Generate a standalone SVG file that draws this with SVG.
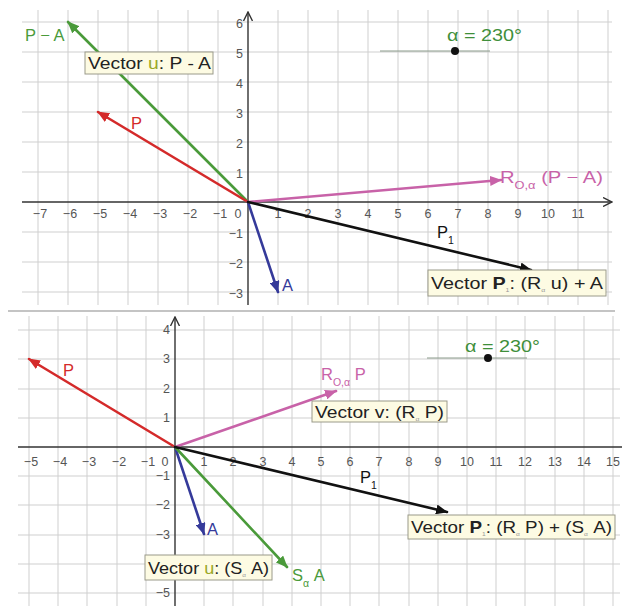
<svg xmlns="http://www.w3.org/2000/svg" width="627" height="606" viewBox="0 0 627 606">
<defs>
<style>
.grid{stroke:#cfcfcf;stroke-width:1;fill:none}
.axis{stroke:#333;stroke-width:1.4;fill:none}
.tick{font-family:"Liberation Sans",Arial,sans-serif;font-size:12.5px;fill:#555}
.lbl{font-family:"Liberation Sans",Arial,sans-serif;font-size:16.5px}
.box{fill:#fdfbe3;stroke:#9a9a8a;stroke-width:1}
.btxt{font-family:"Liberation Sans",Arial,sans-serif;font-size:17px;fill:#222}
.sub{font-size:10.5px}
.tiny{font-size:6px;fill:#999}
.vec{stroke-width:2.6;fill:none;stroke-linecap:round}
</style>
<marker id="arK" markerUnits="userSpaceOnUse" markerWidth="12" markerHeight="10" refX="11" refY="5" orient="auto"><path d="M0,0 L12,5 L0,10 Z" fill="#111"/></marker>
<marker id="arR" markerUnits="userSpaceOnUse" markerWidth="12" markerHeight="10" refX="11" refY="5" orient="auto"><path d="M0,0 L12,5 L0,10 Z" fill="#d42a2a"/></marker>
<marker id="arG" markerUnits="userSpaceOnUse" markerWidth="12" markerHeight="10" refX="11" refY="5" orient="auto"><path d="M0,0 L12,5 L0,10 Z" fill="#4a9a3a"/></marker>
<marker id="arB" markerUnits="userSpaceOnUse" markerWidth="12" markerHeight="10" refX="11" refY="5" orient="auto"><path d="M0,0 L12,5 L0,10 Z" fill="#353a9a"/></marker>
<marker id="arM" markerUnits="userSpaceOnUse" markerWidth="12" markerHeight="10" refX="11" refY="5" orient="auto"><path d="M0,0 L12,5 L0,10 Z" fill="#c862a8"/></marker>
<marker id="axA" markerUnits="userSpaceOnUse" markerWidth="10" markerHeight="10" refX="9" refY="5" orient="auto"><path d="M0,0.5 L9,5 L0,9.5" fill="none" stroke="#333" stroke-width="1.4"/></marker>
</defs>
<rect width="627" height="606" fill="#fff"/>

<!-- TOP PANEL -->
<g id="top-grid">
<path class="grid" d="M38,10V305 M68,10V305 M98,10V305 M128,10V305 M158,10V305 M188,10V305 M218,10V305 M278,10V305 M308,10V305 M338,10V305 M368,10V305 M398,10V305 M428,10V305 M458,10V305 M488,10V305 M518,10V305 M548,10V305 M578,10V305 M608,10V305"/>
<path class="grid" d="M22,22H612 M22,52H612 M22,82H612 M22,112H612 M22,142H612 M22,172H612 M22,232H612 M22,262H612 M22,292H612"/>
<line class="axis" x1="22" y1="202" x2="612" y2="202" marker-end="url(#axA)"/>
<line class="axis" x1="248" y1="305" x2="248" y2="12" marker-end="url(#axA)"/>
</g>
<g id="top-ticks" class="tick" text-anchor="middle">
<text x="40" y="218">−7</text><text x="70" y="218">−6</text><text x="100" y="218">−5</text><text x="130" y="218">−4</text><text x="160" y="218">−3</text><text x="190" y="218">−2</text><text x="220" y="218">−1</text><text x="238" y="218">0</text>
<text x="278" y="218">1</text><text x="308" y="218">2</text><text x="338" y="218">3</text><text x="368" y="218">4</text><text x="398" y="218">5</text><text x="428" y="218">6</text><text x="458" y="218">7</text><text x="488" y="218">8</text><text x="518" y="218">9</text><text x="548" y="218">10</text><text x="578" y="218">11</text>
<g text-anchor="end"><text x="243" y="28">6</text><text x="243" y="58">5</text><text x="243" y="88">4</text><text x="243" y="118">3</text><text x="243" y="148">2</text><text x="243" y="178">1</text><text x="243" y="238">−1</text><text x="243" y="268">−2</text><text x="243" y="298">−3</text></g>
</g>
<g id="top-slider">
<line x1="380" y1="51" x2="490" y2="51" stroke="#8a9a8a" stroke-width="1"/>
<circle cx="455" cy="51" r="4" fill="#111"/>
<text class="lbl" x="447" y="41" fill="#3f8f3a" font-size="15" textLength="75" lengthAdjust="spacingAndGlyphs">α = 230°</text>
</g>
<g id="connectors-top">
<line class="vec" x1="248" y1="202" x2="68" y2="22" stroke="#4a9a3a" marker-end="url(#arG)"/>
<line class="vec" x1="248" y1="202" x2="98" y2="112" stroke="#d42a2a" marker-end="url(#arR)"/>
<line class="vec" x1="248" y1="202" x2="278" y2="292" stroke="#353a9a" marker-end="url(#arB)"/>
<line class="vec" x1="248" y1="202" x2="501" y2="180" stroke="#c862a8" marker-end="url(#arM)"/>
<line class="vec" x1="248" y1="202" x2="531" y2="270" stroke="#111" marker-end="url(#arK)"/>
</g>
<g id="top-PminusA"><text class="lbl" x="25" y="41" fill="#4a9a3a">P − A</text></g>
<g id="top-P"><text class="lbl" x="131" y="129" fill="#d42a2a">P</text></g>
<g id="top-A"><text class="lbl" x="282" y="291" fill="#353a9a">A</text></g>
<g id="top-R"><text class="lbl" x="500" y="183" fill="#c862a8" textLength="103" lengthAdjust="spacingAndGlyphs">R<tspan class="sub" dy="6">O,α</tspan><tspan dy="-6"> (P − A)</tspan></text></g>
<g id="top-P1"><text class="lbl" x="437" y="238" fill="#111">P<tspan class="sub" dy="6">1</tspan></text></g>
<g id="top-box-u">
<rect class="box" x="85" y="52" width="128" height="22"/>
<text class="btxt" x="88" y="69" textLength="123" lengthAdjust="spacingAndGlyphs">Vector <tspan fill="#9aa828">u</tspan>: P - A</text>
</g>
<g id="top-box-P">
<rect class="box" x="428" y="270" width="178" height="26"/>
<text class="btxt" x="431" y="289" textLength="172" lengthAdjust="spacingAndGlyphs">Vector <tspan font-weight="bold">P</tspan><tspan class="tiny" dy="3">1</tspan><tspan dy="-3">: (R</tspan><tspan class="tiny" dy="3">α</tspan><tspan dy="-3"> u) + A</tspan></text>
</g>

<line x1="8" y1="311" x2="615" y2="311" stroke="#8a8a8a" stroke-width="1.2"/>

<!-- BOTTOM PANEL -->
<g id="bottom-grid">
<path class="grid" d="M29,316V606 M58,316V606 M87,316V606 M117,316V606 M146,316V606 M204,316V606 M233,316V606 M263,316V606 M292,316V606 M321,316V606 M350,316V606 M379,316V606 M409,316V606 M438,316V606 M467,316V606 M496,316V606 M525,316V606 M555,316V606 M584,316V606 M613,316V606"/>
<path class="grid" d="M18,330H620 M18,359H620 M18,389H620 M18,418H620 M18,476H620 M18,505H620 M18,535H620 M18,564H620 M18,593H620"/>
<line class="axis" x1="18" y1="447" x2="622" y2="447"/>
<line class="axis" x1="175" y1="606" x2="175" y2="317" marker-end="url(#axA)"/>
</g>
<g id="bottom-ticks" class="tick" text-anchor="middle">
<text x="31" y="466">−5</text><text x="60" y="466">−4</text><text x="89" y="466">−3</text><text x="119" y="466">−2</text><text x="148" y="466">−1</text><text x="165" y="466">0</text>
<text x="204" y="466">1</text><text x="233" y="466">2</text><text x="263" y="466">3</text><text x="292" y="466">4</text><text x="321" y="466">5</text><text x="350" y="466">6</text><text x="379" y="466">7</text><text x="409" y="466">8</text><text x="438" y="466">9</text><text x="467" y="466">10</text><text x="496" y="466">11</text><text x="525" y="466">12</text><text x="555" y="466">13</text><text x="584" y="466">14</text><text x="613" y="466">15</text>
<g text-anchor="end"><text x="170" y="334">4</text><text x="170" y="363">3</text><text x="170" y="393">2</text><text x="170" y="422">1</text><text x="170" y="480">−1</text><text x="170" y="509">−2</text><text x="170" y="539">−3</text><text x="170" y="597">−5</text></g>
</g>
<g id="bottom-slider">
<line x1="427" y1="358" x2="527" y2="358" stroke="#8a9a8a" stroke-width="1"/>
<circle cx="488" cy="358" r="4" fill="#111"/>
<text class="lbl" x="465" y="352" fill="#3f8f3a" font-size="15" textLength="75" lengthAdjust="spacingAndGlyphs">α = 230°</text>
</g>
<g id="connectors-bottom">
<line class="vec" x1="175" y1="447" x2="29" y2="359" stroke="#d42a2a" marker-end="url(#arR)"/>
<line class="vec" x1="175" y1="447" x2="336" y2="391" stroke="#c862a8" marker-end="url(#arM)"/>
<line class="vec" x1="175" y1="447" x2="204" y2="534" stroke="#353a9a" marker-end="url(#arB)"/>
<line class="vec" x1="175" y1="447" x2="287" y2="567" stroke="#4a9a3a" marker-end="url(#arG)"/>
<line class="vec" x1="175" y1="447" x2="447" y2="512" stroke="#111" marker-end="url(#arK)"/>
</g>
<g id="bottom-P"><text class="lbl" x="63" y="376" fill="#d42a2a">P</text></g>
<g id="bottom-R"><text class="lbl" x="321" y="380" fill="#c862a8">R<tspan class="sub" dy="6">O,α</tspan><tspan dy="-6"> P</tspan></text></g>
<g id="bottom-A"><text class="lbl" x="207" y="535" fill="#353a9a">A</text></g>
<g id="bottom-S"><text class="lbl" x="292" y="581" fill="#4a9a3a">S<tspan class="sub" dy="6">α</tspan><tspan dy="-6"> A</tspan></text></g>
<g id="bottom-P1"><text class="lbl" x="360" y="483" fill="#111">P<tspan class="sub" dy="6">1</tspan></text></g>
<g id="bottom-box-v">
<rect class="box" x="312" y="401" width="135" height="21"/>
<text class="btxt" x="315" y="418" textLength="129" lengthAdjust="spacingAndGlyphs">Vector v: (R<tspan class="tiny" dy="3">α</tspan><tspan dy="-3"> P)</tspan></text>
</g>
<g id="bottom-box-u">
<rect class="box" x="145" y="555" width="127" height="25"/>
<text class="btxt" x="148" y="574" textLength="121" lengthAdjust="spacingAndGlyphs">Vector <tspan fill="#9aa828">u</tspan>: (S<tspan class="tiny" dy="3">α</tspan><tspan dy="-3"> A)</tspan></text>
</g>
<g id="bottom-box-P">
<rect class="box" x="408" y="515" width="207" height="24"/>
<text class="btxt" x="411" y="533" textLength="201" lengthAdjust="spacingAndGlyphs">Vector <tspan font-weight="bold">P</tspan><tspan class="tiny" dy="3">1</tspan><tspan dy="-3">: (R</tspan><tspan class="tiny" dy="3">α</tspan><tspan dy="-3"> P) + (S</tspan><tspan class="tiny" dy="3">α</tspan><tspan dy="-3"> A)</tspan></text>
</g>
</svg>
